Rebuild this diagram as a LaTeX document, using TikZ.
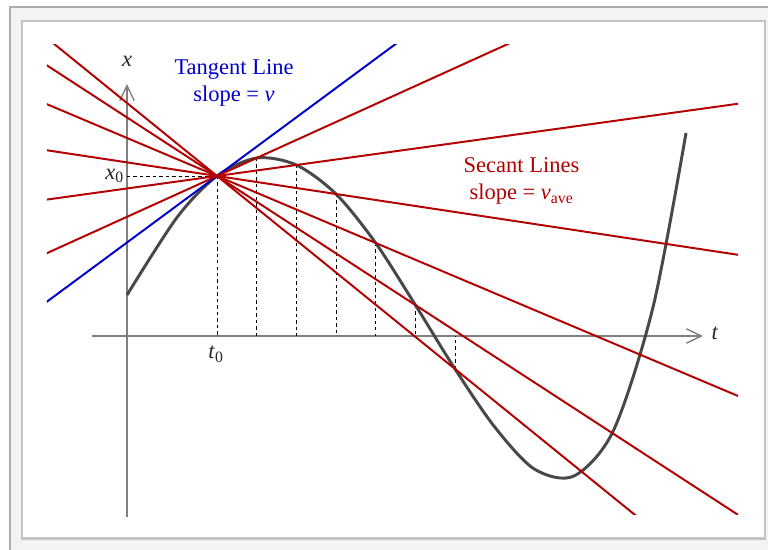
\documentclass[tikz,border=0pt]{standalone}
\usepackage{fontspec}
\setmainfont{Liberation Serif}
\usepackage{xcolor}
\usetikzlibrary{arrows.meta, positioning, calc}
\definecolor{secred}{RGB}{180,0,0}
\definecolor{tanblue}{RGB}{0,0,205}
\definecolor{curvegray}{RGB}{72,72,72}
\definecolor{axisgray}{RGB}{128,128,128}
\definecolor{framegray}{RGB}{196,196,196}
\definecolor{panelgray}{RGB}{243,243,243}

\begin{document}
\begin{tikzpicture}[
    x=0.025cm, y=0.025cm,
    font=\fontsize{16}{19.5}\selectfont,
    axis/.style={draw=axisgray, line width=1pt, -{Straight Barb[length=0.375cm, width=0.36cm]}},
    guide/.style={draw=black, line width=0.6pt, dash pattern=on 2.4pt off 2.2pt},
    curve/.style={draw=curvegray, line width=2.1pt},
    secant/.style={draw=secred, line width=1.4pt},
    tangent/.style={draw=tanblue, line width=1.4pt},
    lbl/.style={text=black!85}
  ]
  \useasboundingbox (-127,-214) rectangle (641,336);
  \fill[white] (-127,-214) rectangle (641,336);
  \filldraw[fill=panelgray, draw=black!33, line width=0.05cm] (-116.5,-240) rectangle (660,328.5);
  \filldraw[fill=white, draw=framegray, line width=0.05cm] (-105,-202.5) rectangle (637.5,315);

  \coordinate (o) at (0,0);
  \coordinate (tstart) at (-35,0);
  \coordinate (tend) at (576,0);
  \coordinate (xstart) at (0,-181);
  \coordinate (xend) at (0,252);
  \foreach \k/\v in {0/160,1/178,2/171,3/142,4/93,5/31,6/-33}
    \coordinate (p\k) at ({90+39.67*\k},\v);

  % axes and guides
  \draw[axis] (tstart) -- (tend);
  \draw[axis] (xstart) -- (xend);
  \draw[guide] (o |- p0) -- (p0);
  \foreach \k in {0,...,6}
    \draw[guide] (p\k) -- (p\k |- o);

  % position curve
  \draw[curve] plot[smooth] coordinates {(0,41) (50.3,119)
    (p0) (p1) (p2) (p3) (p4) (p5) (p6) (367.7,-91) (407.3,-133)
    (447,-140) (486.7,-94) (526.3,30) (559,203)};

  % tangent and secants
  \begin{scope}
    \clip (-80,-179) rectangle (611,291);
    \draw[tangent] ($(p0)+(-300,-221.7)$) -- ($(p0)+(300,221.7)$);
    \foreach \k in {1,...,6}
      \draw[secant] ($(p0)!-20!(p\k)$) -- ($(p0)!20!(p\k)$);
  \end{scope}

  \node[lbl] (xlab) at (0,275) {\textit{x}};
  \node[lbl] (tlab) at (588,3) {\textit{t}};
  \node[lbl, anchor=east] (x0lab) at (2,160) {\textit{x}\textsubscript{0}};
  \node[lbl] (t0lab) at (89,-18) {\textit{t}\textsubscript{0}};
  \node[text=tanblue, align=center] (tanlab) at (107,253) {Tangent Line\\slope = \textit{v}};
  \node[text=secred, align=center] (seclab) at (394.5,155) {Secant Lines\\slope = \textit{v}\textsubscript{ave}};
\end{tikzpicture}
\end{document}
